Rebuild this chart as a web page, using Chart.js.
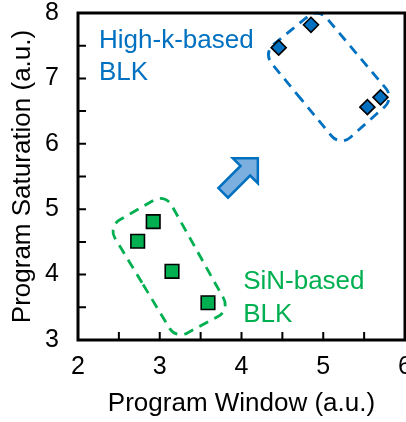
<!DOCTYPE html>
<html>
<head>
<meta charset="utf-8">
<script src="https://cdn.jsdelivr.net/npm/chart.js@4/dist/chart.umd.min.js"></script>
<style>
  html, body { margin: 0; padding: 0; overflow: hidden; background: #fff; }
  #wrap { width: 430px; height: 422px; }
</style>
</head>
<body>
<div id="wrap"><canvas id="c" width="430" height="422"></canvas></div>
<script>
// Данные
const highKWindow = [4.455, 4.85, 5.54, 5.70];
const highKSaturation = [7.47, 7.82, 6.56, 6.71];
const sinWindow = [2.73, 2.92, 3.15, 3.59];
const sinSaturation = [4.51, 4.81, 4.05, 3.57];

const xRange = [2, 6];
const yRange = [3, 8];

const BLUE = '#0070C0';
const GREEN = '#00B050';
const FONT = "Arial, 'Liberation Sans', sans-serif";

function toPoints(xs, ys) {
    return xs.map((x, i) => ({ x: x, y: ys[i] }));
}

// скруглённый четырёхугольник по углам
function roundedPoly(ctx, pts, r) {
    const n = pts.length;
    ctx.beginPath();
    const start = { x: (pts[n - 1].x + pts[0].x) / 2, y: (pts[n - 1].y + pts[0].y) / 2 };
    ctx.moveTo(start.x, start.y);
    for (let i = 0; i < n; i++) {
        const p = pts[i];
        const q = pts[(i + 1) % n];
        ctx.arcTo(p.x, p.y, q.x, q.y, r);
    }
    ctx.closePath();
}

const decorPlugin = {
    id: 'decor',
    beforeDatasetsDraw(chart) {
        const { ctx, scales: { x, y } } = chart;
        const px = (p) => ({ x: x.getPixelForValue(p[0]), y: y.getPixelForValue(p[1]) });

        ctx.save();
        ctx.lineWidth = 2.8;
        ctx.setLineDash([10, 7]);

        // рамка вокруг High-k
        ctx.strokeStyle = BLUE;
        roundedPoly(ctx, [[4.264, 7.387], [4.938, 8.077], [5.868, 6.696], [5.207, 5.960]].map(px), 13);
        ctx.stroke();

        // рамка вокруг SiN
        ctx.strokeStyle = GREEN;
        roundedPoly(ctx, [[2.367, 4.733], [3.065, 5.239], [3.860, 3.460], [3.200, 3.015]].map(px), 13);
        ctx.stroke();
        ctx.setLineDash([]);

        // стрелка
        const tip = px([4.2, 5.78]);
        const local = [[0, 0], [-17.7, 17.7], [-17.7, 6.8], [-49, 6.8], [-49, -6.8], [-17.7, -6.8], [-17.7, -17.7]];
        const ux = Math.SQRT1_2, uy = -Math.SQRT1_2; // вверх-вправо
        const vx = Math.SQRT1_2, vy = Math.SQRT1_2;
        ctx.beginPath();
        local.forEach(([a, b], i) => {
            const X = tip.x + a * ux + b * vx;
            const Y = tip.y + a * uy + b * vy;
            if (i === 0) ctx.moveTo(X, Y); else ctx.lineTo(X, Y);
        });
        ctx.closePath();
        ctx.fillStyle = '#7BAFE0';
        ctx.fill();
        ctx.lineWidth = 2.5;
        ctx.lineJoin = 'miter';
        ctx.strokeStyle = BLUE;
        ctx.stroke();

        // подписи
        ctx.font = '26px ' + FONT;
        ctx.textBaseline = 'alphabetic';
        ctx.textAlign = 'left';
        const hk = px([2.257, 7.463]);
        ctx.fillStyle = BLUE;
        ctx.fillText('High-k-based', hk.x, hk.y);
        ctx.fillText('BLK', hk.x, hk.y + 32);
        const sn = px([4.02, 3.782]);
        ctx.fillStyle = GREEN;
        ctx.fillText('SiN-based', sn.x, sn.y);
        ctx.fillText('BLK', sn.x, sn.y + 33);
        ctx.restore();
    },
    afterDraw(chart) {
        const { ctx, chartArea: a, scales: { x, y } } = chart;
        ctx.save();
        ctx.strokeStyle = '#000';
        ctx.lineWidth = 3;
        ctx.lineCap = 'square';
        ctx.beginPath();
        ctx.moveTo(a.left, a.bottom);
        ctx.lineTo(a.left, a.top);
        ctx.lineTo(a.right, a.top);
        ctx.lineTo(a.right, a.bottom);
        ctx.lineTo(a.left, a.bottom);
        ctx.stroke();

        // внутренние засечки через 0.5
        ctx.lineWidth = 2;
        ctx.lineCap = 'butt';
        ctx.beginPath();
        for (let v = yRange[0] + 0.5; v < yRange[1]; v += 0.5) {
            const py = y.getPixelForValue(v);
            ctx.moveTo(a.left, py);
            ctx.lineTo(a.left + 8, py);
        }
        for (let v = xRange[0] + 0.5; v < xRange[1]; v += 0.5) {
            const pxv = x.getPixelForValue(v);
            ctx.moveTo(pxv, a.bottom);
            ctx.lineTo(pxv, a.bottom - 8);
        }
        ctx.stroke();
        ctx.restore();
    }
};

new Chart(document.getElementById('c'), {
    type: 'scatter',
    data: {
        datasets: [
            {
                label: 'High-k-based BLK',
                data: toPoints(highKWindow, highKSaturation),
                pointStyle: 'rectRot',
                pointRadius: 7.5,
                pointHoverRadius: 7.5,
                backgroundColor: BLUE,
                borderColor: '#000',
                borderWidth: 1.6
            },
            {
                label: 'SiN-based BLK',
                data: toPoints(sinWindow, sinSaturation),
                pointStyle: 'rect',
                pointRadius: 9.6,
                pointHoverRadius: 9.6,
                backgroundColor: GREEN,
                borderColor: '#000',
                borderWidth: 1.6
            }
        ]
    },
    options: {
        responsive: false,
        animation: false,
        events: [],
        layout: { padding: { top: 13, right: 25, left: 0, bottom: 0 } },
        plugins: { legend: { display: false }, tooltip: { enabled: false } },
        scales: {
            x: {
                type: 'linear',
                min: xRange[0],
                max: xRange[1],
                grid: { display: false },
                border: { display: false },
                ticks: {
                    stepSize: 1,
                    color: '#000',
                    padding: 7,
                    font: { family: FONT, size: 25, lineHeight: 1 }
                },
                title: {
                    display: true,
                    text: 'Program Window (a.u.)',
                    color: '#000',
                    font: { family: FONT, size: 26, lineHeight: 1.2 },
                    padding: { top: 0, bottom: 3 }
                },
                afterFit(scale) {
                    scale.height = 82;
                    scale.paddingLeft = 0;
                    scale.paddingRight = 0;
                }
            },
            y: {
                type: 'linear',
                min: yRange[0],
                max: yRange[1],
                grid: { display: false },
                border: { display: false },
                ticks: {
                    stepSize: 1,
                    color: '#000',
                    padding: 11,
                    font: { family: FONT, size: 25, lineHeight: 1 }
                },
                title: {
                    display: true,
                    text: 'Program Saturation (a.u.)',
                    color: '#000',
                    font: { family: FONT, size: 26, lineHeight: 1.2 },
                    padding: { top: 7, bottom: 0 }
                },
                afterFit(scale) {
                    scale.width = 78;
                    scale.paddingTop = 0;
                    scale.paddingBottom = 0;
                }
            }
        }
    },
    plugins: [decorPlugin]
});
</script>
</body>
</html>
